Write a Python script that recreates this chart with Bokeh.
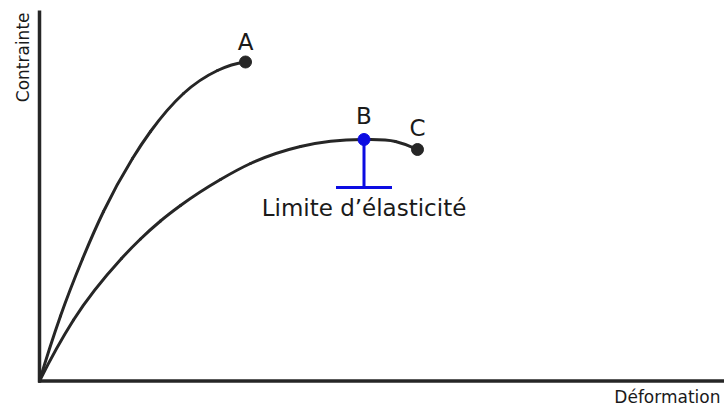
import math
from bokeh.plotting import figure
from bokeh.models import Range1d
from bokeh.core.properties import value
from bokeh.embed import file_html
from bokeh.resources import INLINE

# ---- data (deformation, stress), arbitrary units ----
curve_a_def = [0, 21, 43, 64, 93, 111, 144, 178, 206]
curve_a_str = [0, 65, 122, 169.5, 222.5, 249.5, 287.5, 310.5, 319]

curve_bc_def = [0, 34, 82, 101, 121, 141, 181, 211, 261, 324.5, 356, 378]
curve_bc_str = [0, 61, 122.5, 142, 160, 175.5, 201.5, 217.5, 234.5, 241.5, 239.5, 231.5]

# end points / yield point
point_labels = ["A", "B", "C"]
point_def = [206, 324.5, 378]
point_str = [319, 241.5, 231.5]
yield_index = 1
yield_label = "Limite d\u2019\u00e9lasticit\u00e9"
yield_drop = 48          # stem of the yield marker (stress units)
yield_half_width = 28    # half width of the tee (deformation units)

x_title = "D\u00e9formation"
y_title = "Contrainte"
x_axis_max = 685
y_axis_max = 370.5

FONT = "DejaVu Sans"
INK = "#262626"
TXT = "#1a1a1a"
BLUE = "#0c0ce2"


def hermite_segments(xs, ys):
    """Smooth cubic (Hermite in x) through the read points, as bezier pieces."""
    n = len(xs)
    h = [xs[i + 1] - xs[i] for i in range(n - 1)]
    d = [(ys[i + 1] - ys[i]) / h[i] for i in range(n - 1)]
    m = [0.0] * n
    for i in range(1, n - 1):
        m[i] = (h[i - 1] * d[i] + h[i] * d[i - 1]) / (h[i - 1] + h[i])
    m[0] = ((2 * h[0] + h[1]) * d[0] - h[0] * d[1]) / (h[0] + h[1])
    m[-1] = ((2 * h[-1] + h[-2]) * d[-1] - h[-1] * d[-2]) / (h[-1] + h[-2])
    out = {k: [] for k in ("x0", "y0", "x1", "y1", "cx0", "cy0", "cx1", "cy1")}
    for i in range(n - 1):
        out["x0"].append(xs[i]); out["y0"].append(ys[i])
        out["x1"].append(xs[i + 1]); out["y1"].append(ys[i + 1])
        out["cx0"].append(xs[i] + h[i] / 3.0)
        out["cy0"].append(ys[i] + m[i] * h[i] / 3.0)
        out["cx1"].append(xs[i + 1] - h[i] / 3.0)
        out["cy1"].append(ys[i + 1] - m[i + 1] * h[i] / 3.0)
    return out


p = figure(width=724, height=406,
           x_range=Range1d(-39, 685), y_range=Range1d(-25.5, 380.5),
           x_axis_location=None, y_axis_location=None,
           output_backend="svg", toolbar_location=None,
           min_border=0, min_border_left=0, min_border_right=0,
           min_border_top=0, min_border_bottom=0)
p.grid.visible = False
p.outline_line_color = None
p.background_fill_color = "white"

# axis lines
p.segment(x0=[0, -1.5], y0=[-1.5, 0], x1=[0, x_axis_max], y1=[y_axis_max, 0],
          line_color=INK, line_width=3.5)

# curves
for xs, ys in ((curve_a_def, curve_a_str), (curve_bc_def, curve_bc_str)):
    p.bezier(line_color=INK, line_width=3, line_cap="round", **hermite_segments(xs, ys))

# yield marker
bx, by = point_def[yield_index], point_str[yield_index]
p.segment(x0=[bx], y0=[by], x1=[bx], y1=[by - yield_drop], line_color=BLUE, line_width=3)
p.segment(x0=[bx - yield_half_width], y0=[by - yield_drop], x1=[bx + yield_half_width],
          y1=[by - yield_drop], line_color=BLUE, line_width=3)

# points
colors = [INK if i != yield_index else BLUE for i in range(len(point_labels))]
p.scatter(point_def, point_str, size=12, fill_color=colors, line_color=colors)

# point labels
offsets = [20, 24, 22]
for lab, x, y, off in zip(point_labels, point_def, point_str, offsets):
    p.text(x=[x], y=[y], text=[lab], y_offset=-off, text_align="center",
           text_baseline="alphabetic", text_font=value(FONT),
           text_font_size="23px", text_color=TXT)

p.text(x=[bx], y=[by], text=[yield_label], y_offset=68.5, text_align="center",
       text_baseline="alphabetic", text_font=value(FONT), text_font_size="23px",
       text_color=TXT)

# axis titles
p.text(x=[681], y=[-16], text=[x_title], text_align="right", text_baseline="alphabetic",
       text_font=value(FONT), text_font_size="17px", text_color=TXT)
p.text(x=[-17], y=[368.5], text=[y_title], angle=math.pi / 2, text_align="right",
       text_baseline="alphabetic", text_font=value(FONT), text_font_size="17px",
       text_color=TXT)

open("out.html", "w").write(file_html(p, INLINE))
